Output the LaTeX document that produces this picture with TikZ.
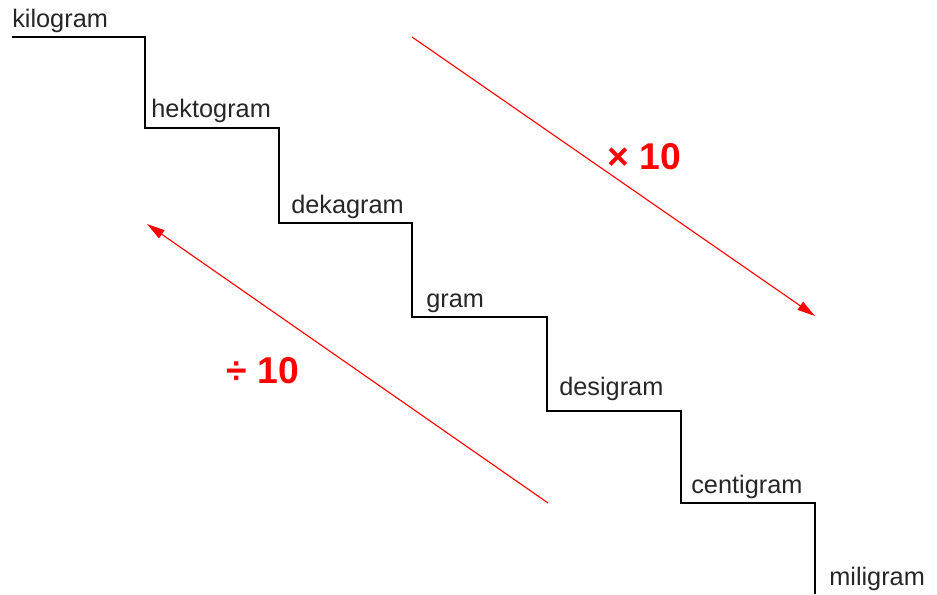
\documentclass[tikz,border=0pt]{standalone}
\usepackage{fontspec}
\setmainfont{Liberation Sans}
\usetikzlibrary{arrows.meta}
\tikzset{
  unit/.style  = {anchor=base west, inner sep=0pt, text=black!85,
                  font=\fontsize{18}{20}\selectfont},
  stair/.style = {draw=black, line width=1pt},
  arr/.style   = {-{Triangle[length=4.5mm,width=2.4mm]}, draw=red, line width=0.8pt},
  lab/.style   = {text=red, font=\fontsize{26.5}{29}\selectfont\bfseries},
}

\begin{document}
\begin{tikzpicture}[x=0.025cm, y=-0.025cm]
  \useasboundingbox (0,0) rectangle (937,594);
  % staircase
  \draw[stair] (12,37) -| (145,128) -| (279,223) -| (412,317)
               -| (547,411) -| (681,503) -| (815,594);
  % units
  \node[unit] (kg)  at (12,27)  {kilogram};
  \node[unit] (hg)  at (151,117) {hektogram};
  \node[unit] (dag) at (291,213) {dekagram};
  \node[unit] (g)   at (426,307) {gram};
  \node[unit] (dg)  at (559,395) {desigram};
  \node[unit] (cg)  at (691,493) {centigram};
  \node[unit] (mg)  at (829,585) {miligram};
  % times ten
  \coordinate (t1) at (412,37);
  \coordinate (t2) at (815,316);
  \draw[arr] (t1) -- (t2);
  \node[lab] (mul) at (644,157) {× 10};
  % divided by ten
  \coordinate (d1) at (548,503);
  \coordinate (d2) at (147,224);
  \draw[arr] (d1) -- (d2);
  \node[lab] (div) at (263,371) {÷ 10};
\end{tikzpicture}
\end{document}
